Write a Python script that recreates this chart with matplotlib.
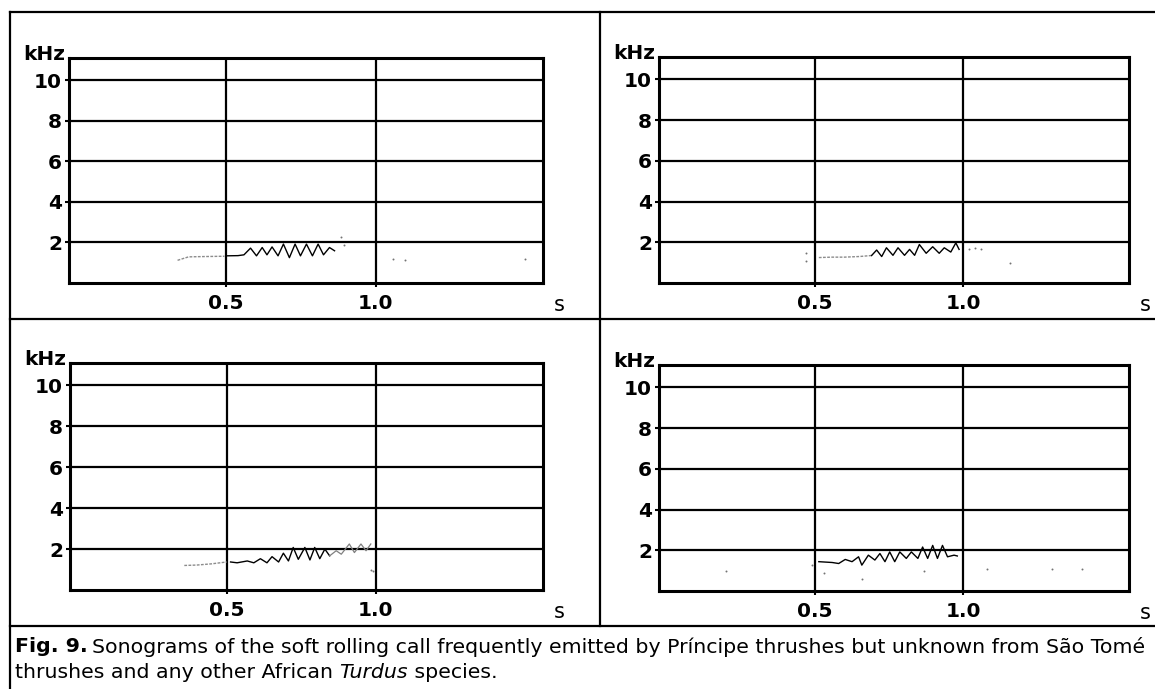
import matplotlib.pyplot as plt
from matplotlib.lines import Line2D

W, H = 1155, 689

# y ticks (kHz) and x ticks (s)
freq_ticks = [2, 4, 6, 8, 10]
time_ticks = [0.5, 1.0]
time_labels = ['0.5', '1.0']

# panel A (top left): faint lead-in, rolling part, stray dots
a_lead_t = [0.338, 0.375, 0.41, 0.45, 0.495]
a_lead_f = [1.12, 1.29, 1.30, 1.31, 1.32]
a_roll_t = [0.5, 0.54, 0.56, 0.582, 0.602, 0.621, 0.637, 0.654, 0.674, 0.692,
            0.712, 0.731, 0.749, 0.769, 0.789, 0.808, 0.826, 0.846, 0.863]
a_roll_f = [1.34, 1.35, 1.39, 1.72, 1.34, 1.75, 1.39, 1.78, 1.34, 1.92,
            1.25, 1.92, 1.34, 1.92, 1.34, 1.92, 1.39, 1.75, 1.59]
a_dots_t = [0.885, 0.896, 1.06, 1.1, 1.5]
a_dots_f = [2.25, 1.88, 1.17, 1.12, 1.2]

# panel B (top right)
b_lead_t = [0.514, 0.56, 0.6, 0.65, 0.692]
b_lead_f = [1.25, 1.27, 1.27, 1.3, 1.35]
b_roll_t = [0.692, 0.709, 0.726, 0.742, 0.764, 0.781, 0.803, 0.82, 0.837, 0.853,
            0.876, 0.898, 0.92, 0.937, 0.959, 0.976, 0.987]
b_roll_f = [1.35, 1.62, 1.30, 1.73, 1.36, 1.73, 1.36, 1.65, 1.36, 1.89,
            1.46, 1.78, 1.46, 1.73, 1.52, 1.97, 1.65]
b_dots_t = [0.47, 0.47, 1.02, 1.04, 1.06, 1.16]
b_dots_f = [1.45, 1.1, 1.68, 1.7, 1.68, 1.0]

# panel C (bottom left)
c_lead_t = [0.358, 0.4, 0.45, 0.5]
c_lead_f = [1.2, 1.22, 1.28, 1.37]
c_roll_t = [0.513, 0.535, 0.569, 0.591, 0.613, 0.635, 0.652, 0.674, 0.69, 0.707,
            0.723, 0.74, 0.762, 0.779, 0.795, 0.812, 0.829, 0.845]
c_roll_f = [1.37, 1.33, 1.42, 1.33, 1.53, 1.33, 1.63, 1.37, 1.8, 1.42,
            2.08, 1.5, 2.08, 1.47, 2.08, 1.53, 2.0, 1.67]
c_tail_t = [0.845, 0.867, 0.884, 0.911, 0.928, 0.95, 0.967, 0.983]
c_tail_f = [1.67, 1.92, 1.75, 2.25, 1.83, 2.25, 1.92, 2.25]
c_dots_t = [0.983, 0.99]
c_dots_f = [1.0, 0.95]

# panel D (bottom right)
d_roll_t = [0.514, 0.559, 0.581, 0.603, 0.626, 0.648, 0.659, 0.681, 0.703, 0.72,
            0.737, 0.753, 0.77, 0.787, 0.809, 0.826, 0.848, 0.864, 0.881, 0.898,
            0.914, 0.931, 0.948, 0.97, 0.981]
d_roll_f = [1.44, 1.4, 1.35, 1.55, 1.44, 1.68, 1.27, 1.76, 1.52, 1.84,
            1.44, 1.92, 1.44, 1.92, 1.6, 1.92, 1.6, 2.16, 1.6, 2.24,
            1.6, 2.24, 1.68, 1.76, 1.72]
d_dots_t = [0.49, 0.53, 0.66, 0.87, 0.2, 1.08, 1.3, 1.4]
d_dots_f = [1.3, 0.9, 0.6, 1.0, 1.0, 1.1, 1.1, 1.1]

caption_1 = 'Sonograms of the soft rolling call frequently emitted by Príncipe thrushes but unknown from São Tomé'
caption_2a = 'thrushes and any other African '
caption_2b = 'Turdus'
caption_2c = ' species.'

PT = 0.72  # points per pixel at dpi 100


def px_axes(fig, x0, y0, x1, y1):
    return fig.add_axes([x0 / W, 1 - y1 / H, (x1 - x0) / W, (y1 - y0) / H])


def sonogram(ax, lead, roll, tail, dots):
    ax.set_xlim(-0.025, 1.56)
    ax.set_ylim(0, 11.1)
    ax.set_yticks(freq_ticks)
    ax.set_yticklabels([str(v) for v in freq_ticks])
    ax.set_xticks(time_ticks)
    ax.set_xticklabels(time_labels)
    ax.grid(True, color='black', lw=1.6)
    ax.set_axisbelow(True)
    for s in ax.spines.values():
        s.set_linewidth(2.2)
    ax.tick_params(length=3, width=1.5, labelsize=14.5)
    ax.tick_params(axis='y', pad=2)
    ax.tick_params(axis='x', pad=5)
    for lab in ax.get_xticklabels() + ax.get_yticklabels():
        lab.set_fontweight('bold')
    if lead:
        ax.plot(lead[0], lead[1], color='0.55', lw=1, ls=(0, (2, 1)))
    ax.plot(roll[0], roll[1], color='black', lw=1.0)
    if tail:
        ax.plot(tail[0], tail[1], color='0.5', lw=0.9)
    ax.scatter(dots[0], dots[1], s=2, color='0.45', lw=0)
    ax.annotate('kHz', xy=(0, 1), xycoords='axes fraction',
                xytext=(-4 * PT, -2 * PT), textcoords='offset points',
                fontsize=14.5, fontweight='bold', ha='right', va='baseline')
    ax.annotate('s', xy=(1, 0), xycoords='axes fraction',
                xytext=(16 * PT, -22 * PT), textcoords='offset points',
                fontsize=15, ha='center', va='center')


def place_caption(fig, renderer, size):
    y1 = 1 - 647 / H
    y2 = 1 - 672 / H
    texts = []
    t = fig.text(15 / W, y1, 'Fig. 9.', fontsize=size, fontweight='bold', va='center')
    texts.append(t)
    x = t.get_window_extent(renderer).x1 + 4
    t = fig.text(x / W, y1, caption_1, fontsize=size, va='center')
    texts.append(t)
    right = t.get_window_extent(renderer).x1
    t = fig.text(15 / W, y2, caption_2a, fontsize=size, va='center')
    texts.append(t)
    x = t.get_window_extent(renderer).x1
    t = fig.text(x / W, y2, caption_2b, fontsize=size, style='italic', va='center')
    texts.append(t)
    x = t.get_window_extent(renderer).x1
    texts.append(fig.text(x / W, y2, caption_2c, fontsize=size, va='center'))
    return texts, right


fig = plt.figure(figsize=(W / 100, H / 100), dpi=100)

# frame lines of the figure plate
frame = [((10, 10), (12, H)), ((10, W), (12, 12)), ((10, W), (319, 319)),
         ((10, W), (626, 626)), ((600, 600), (12, 626))]
for xs, ys in frame:
    fig.add_artist(Line2D([x / W for x in xs], [1 - y / H for y in ys],
                          color='black', lw=1.6))

ax1 = px_axes(fig, 69, 58, 543, 283)
sonogram(ax1, (a_lead_t, a_lead_f), (a_roll_t, a_roll_f), None, (a_dots_t, a_dots_f))
ax2 = px_axes(fig, 659, 57, 1129, 283)
sonogram(ax2, (b_lead_t, b_lead_f), (b_roll_t, b_roll_f), None, (b_dots_t, b_dots_f))
ax3 = px_axes(fig, 70, 363, 543, 590)
sonogram(ax3, (c_lead_t, c_lead_f), (c_roll_t, c_roll_f), (c_tail_t, c_tail_f),
         (c_dots_t, c_dots_f))
ax4 = px_axes(fig, 659, 365, 1129, 591)
sonogram(ax4, None, (d_roll_t, d_roll_f), None, (d_dots_t, d_dots_f))

# caption: size fitted so that the first line ends near the right edge
renderer = fig.canvas.get_renderer()
texts, right = place_caption(fig, renderer, 10)
for t in texts:
    t.remove()
cap_size = 10 * (1146 - 15) / (right - 15)
place_caption(fig, renderer, cap_size)

fig.savefig('out.png', dpi=100)
